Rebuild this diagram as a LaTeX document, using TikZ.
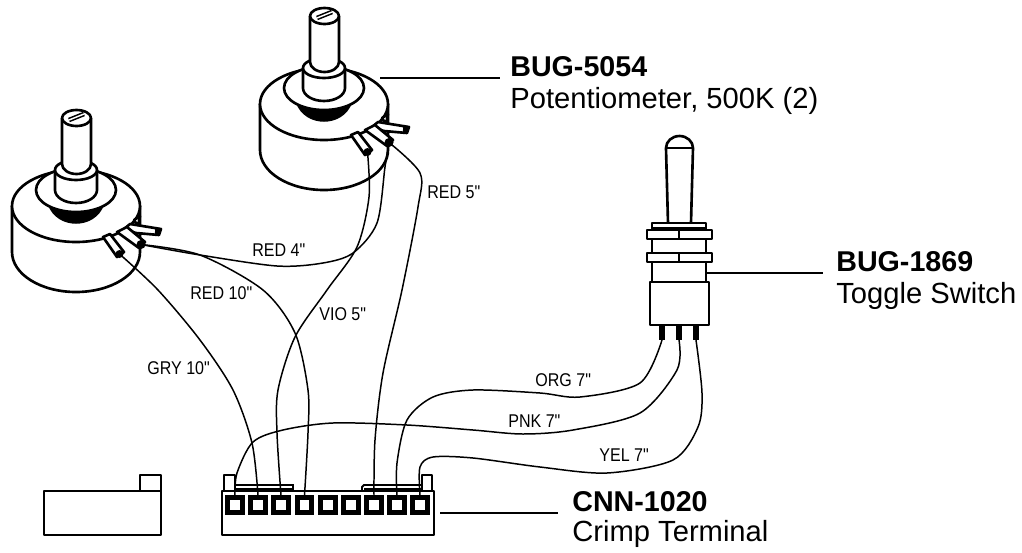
\documentclass[tikz,border=0pt]{standalone}
\usepackage{fontspec}
\setmainfont{Liberation Sans}
\newfontfamily\narrowfont[FakeStretch=0.87]{Liberation Sans}
\tikzset{
    partline/.style = {line width=1.5pt,draw=black,line join=round},
    thinpart/.style = {line width=0.8pt,draw=black},
    wire/.style = {line width=0.85pt,draw=black},
    leader/.style = {line width=1.25pt,draw=black},
    slotbox/.style = {rectangle,draw=black,fill=white,line width=2.8pt,minimum width=8.1pt,minimum height=8.1pt,inner sep=0pt},
    partno/.style = {anchor=base west,inner sep=0pt,font=\fontsize{16.3}{20}\bfseries\selectfont},
    partname/.style = {anchor=base west,inner sep=0pt,font=\fontsize{16.6}{20}\selectfont},
    wirelabel/.style = {anchor=base west,inner sep=0pt,font=\fontsize{10.5}{12}\narrowfont}
}
\newcommand{\potmeter}[2]{
\begin{scope}[shift={#2}]
\draw[partline,fill=white] (260,104) -- (260,150) arc[x radius=64,y radius=40,start angle=180,end angle=0] -- (388,104);
\draw[partline,fill=white] (324,104) ellipse (64 and 36);
\fill[black] (296,103) .. controls (305,128) and (343,128) .. (352,103) -- cycle;
\draw[partline,fill=white] (324,88) ellipse (40 and 22);
\draw[partline,fill=white] (303,68) -- (303,88) arc[x radius=21,y radius=13,start angle=180,end angle=0] -- (345,68);
\draw[partline,fill=white] (324,68) ellipse (21 and 10);
\draw[partline,fill=white] (310,16) -- (310,62) arc[x radius=14.5,y radius=10,start angle=180,end angle=0] -- (339,16);
\draw[partline,fill=white] (324.5,16) ellipse (14.5 and 8);
\draw[line width=2.6pt] (317,18) -- (332,12);
\draw[white,line width=0.8pt] (317,18) -- (332,12);
% terminals
\draw[partline,fill=white] (382,118) -- (388,114) -- (386,124) -- cycle;
\draw[partline,fill=white] (372,127) -- (378,122) -- (409,127) -- (407,133) -- (384,131) -- cycle;
\draw[line width=3pt] (403,129.5) -- (408,130);
\draw[partline,fill=white] (365,130) -- (375,125) -- (393,140) -- (387,146) -- cycle;
\draw[partline,fill=white] (351,135) -- (358,132) -- (372,150) -- (365,155) -- cycle;
\fill[black] (367.5,152) circle (4);
\fill[black] (389,142.5) circle (4.5);
\coordinate (#1a) at (367.5,152);
\coordinate (#1b) at (389,142.5);
\end{scope}
}
\begin{document}
\begin{tikzpicture}[x=0.02cm,y=-0.02cm]
\useasboundingbox (0,0) rectangle (1022,552);
\potmeter{rpot}{(0,0)}
\potmeter{lpot}{(-248,102)}
%
% switch
\draw[partline,fill=white] (668,223) -- (666,148) arc[x radius=13.5,y radius=12,start angle=180,end angle=360] -- (691,223);
\draw[thinpart] (666,148) -- (693,148);
\draw[partline,fill=white] (652,223) rectangle (706,282);
\draw[thinpart] (652,228) -- (706,228);
\draw[partline,fill=white] (647,230) rectangle (712,239);
\draw[partline] (679,230) -- (679,239);
\draw[partline,fill=white] (647,253) rectangle (712,262);
\draw[partline] (679,253) -- (679,262);
\draw[partline,fill=white] (650,282) rectangle (709,325);
\foreach \i/\x in {a/662,b/679,c/696}{
  \draw[line width=3pt] (\x,325) -- (\x,340);
  \coordinate (sw\i) at (\x,340);
}
%
% connector
\draw[partline] (44,491) rectangle (161,535);
\draw[partline] (140,491) -- (140,475) -- (161,475) -- (161,491);
\draw[partline,fill=white] (224,491) -- (224,475) -- (235,475) -- (235,491);
\draw[partline,fill=white] (422,491) -- (422,475) -- (432,475) -- (432,491);
\draw[thinpart,line width=1.1pt] (236,485) -- (293,485) -- (293,491);
\draw[thinpart,line width=1.1pt] (235,489) -- (293,489);
\draw[thinpart,line width=1.1pt] (362,491) -- (362,487) -- (364,485) -- (422,485);
\draw[thinpart,line width=1.1pt] (364,489) -- (422,489);
\draw[partline] (222,491) rectangle (434,535);
\foreach \i/\x in {1/235,2/258,3/281,4/304.5,5/328,6/351,7/374,8/397,9/420}{
  \node[slotbox] (slot\i) at (\x,505) {};
}
%
\draw[wire] plot[smooth] coordinates {(lpota) (158,290) (200,340) (233,390) (252,443) (slot2.north)};
\draw[wire] plot[smooth] coordinates {(lpotb) (200,255) (263,290) (295,333) (308,390) (308,433) (slot4.north)};
\draw[wire] plot[smooth] coordinates {(lpotb) (200,255) (277,266) (323,263) (353,253) (377,223) (385,167) (rpotb)};
\draw[wire] plot[smooth] coordinates {(rpota) (369,197) (357,247) (327,290) (295,337) (278,390) (277,433) (slot3.north)};
\draw[wire] plot[smooth] coordinates {(rpotb) (420,173) (418,207) (402,290) (383,373) (375,440) (slot7.north)};
\draw[wire] plot[smooth] coordinates {(swa) (640,383) (580,397) (540,393) (473,390) (433,397) (407,420) (397,463) (slot8.north)};
\draw[wire] plot[smooth] coordinates {(swb) (677,370) (640,413) (573,430) (523,434) (473,430) (407,425) (333,423) (283,430) (253,442) (237,473) (slot1.north)};
\draw[wire] plot[smooth] coordinates {(swc) (702,393) (698,427) (673,460) (607,473) (540,467) (473,458) (433,457) (420,467) (slot9.north)};
%
\node[wirelabel] (redfive) at (427,198) {RED 5"};
\node[wirelabel] (redfour) at (252,256) {RED 4"};
\node[wirelabel] (redten) at (190,299) {RED 10"};
\node[wirelabel] (viofive) at (319,320) {VIO 5"};
\node[wirelabel] (gryten) at (147,374) {GRY 10"};
\node[wirelabel] (orgseven) at (535,386) {ORG 7"};
\node[wirelabel] (pnkseven) at (508,427) {PNK 7"};
\node[wirelabel] (yelseven) at (599,461) {YEL 7"};
%
\node[partno] (potno) at (510,76) {BUG-5054};
\node[partname] (potname) at (510,108) {Potentiometer, 500K (2)};
\node[partno] (swno) at (836,271) {BUG-1869};
\node[partname] (swname) at (836,303) {Toggle Switch};
\node[partno] (cnnno) at (572,511) {CNN-1020};
\node[partname] (cnnname) at (572,541) {Crimp Terminal};
%
\coordinate (potlead) at (380,78);
\coordinate (potend) at (500,78);
\coordinate (swlead) at (705,273);
\coordinate (swend) at (823,273);
\coordinate (cnnlead) at (440,513);
\coordinate (cnnend) at (558,513);
\draw[leader] (potlead) -- (potend);
\draw[leader] (swlead) -- (swend);
\draw[leader] (cnnlead) -- (cnnend);
\end{tikzpicture}
\end{document}
